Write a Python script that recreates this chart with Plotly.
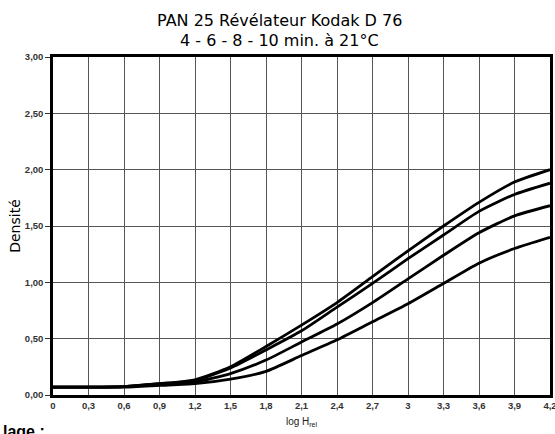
import plotly.graph_objects as go

log_h = [0, 0.3, 0.6, 0.9, 1.2, 1.5, 1.8, 2.1, 2.4, 2.7, 3.0, 3.3, 3.6, 3.9, 4.2]
x_tick_labels = ["0", "0,3", "0,6", "0,9", "1,2", "1,5", "1,8", "2,1", "2,4", "2,7", "3", "3,3", "3,6", "3,9", "4,2"]
y_ticks = [0, 0.5, 1.0, 1.5, 2.0, 2.5, 3.0]

dens_10min = [0.07, 0.07, 0.075, 0.10, 0.135, 0.25, 0.43, 0.62, 0.82, 1.05, 1.28, 1.50, 1.71, 1.89, 2.00]
dens_8min = [0.07, 0.07, 0.075, 0.10, 0.13, 0.24, 0.40, 0.57, 0.78, 0.99, 1.21, 1.42, 1.63, 1.78, 1.88]
dens_6min = [0.07, 0.07, 0.075, 0.095, 0.115, 0.19, 0.31, 0.47, 0.63, 0.82, 1.03, 1.24, 1.44, 1.59, 1.68]
dens_4min = [0.07, 0.07, 0.07, 0.085, 0.10, 0.14, 0.21, 0.35, 0.49, 0.65, 0.81, 0.99, 1.17, 1.30, 1.40]

title_lines = ["PAN 25 Révélateur Kodak D 76", "4 - 6 - 8 - 10 min. à 21°C"]

series = [("10 min", dens_10min), ("8 min", dens_8min), ("6 min", dens_6min), ("4 min", dens_4min)]

fig = go.Figure()
for name, vals in series:
    fig.add_trace(go.Scatter(
        x=log_h, y=vals, name=name, mode="lines",
        line=dict(color="black", width=2.8, shape="spline", smoothing=0.6),
        showlegend=False,
    ))

tick_font = dict(family="Liberation Sans, Arial", size=9.5, color="#333", weight="bold")

fig.update_layout(
    width=555, height=434,
    margin=dict(l=53, r=5, t=57, b=39),
    paper_bgcolor="white", plot_bgcolor="white",
    separators=", ",
    xaxis=dict(
        range=[0, 4.2], tickvals=log_h, ticktext=x_tick_labels,
        showgrid=True, gridcolor="#555", gridwidth=1.3,
        showline=True, linecolor="black", linewidth=2.5, mirror=True,
        zeroline=False, ticks="", tickfont=tick_font, automargin=False,
        ticklabeloverflow="allow",
        title=dict(text="log H<sub>rel</sub>", font=dict(family="Liberation Sans, Arial", size=10, color="#222"), standoff=8),
    ),
    yaxis=dict(
        range=[0, 3.0], tickvals=y_ticks, tickformat=".2f",
        showgrid=True, gridcolor="#555", gridwidth=1.3,
        showline=True, linecolor="black", linewidth=2.5, mirror=True,
        zeroline=False, ticks="outside", ticklen=5, tickcolor="#333", tickwidth=1,
        tickfont=tick_font, automargin=False,
        title=dict(text="Densité", font=dict(family="DejaVu Sans", size=14, color="black"), standoff=1),
    ),
)

for i, line in enumerate(title_lines):
    fig.add_annotation(
        text=line, xref="paper", yref="paper",
        x=(279 - 53) / 497, xanchor="center",
        y=1 + (36 - 19 * i) / 338, yanchor="middle", showarrow=False,
        font=dict(family="DejaVu Sans", size=16, color="black"),
    )

fig.add_annotation(
    text="<b>lage :</b>", xref="paper", yref="paper",
    x=-0.105, xanchor="left", y=-0.078, yanchor="top", showarrow=False,
    font=dict(family="Liberation Sans, Arial", size=16, color="black"),
)

fig.write_html("out.html", config={"displayModeBar": False},
               post_script="document.body.style.margin='0';")
